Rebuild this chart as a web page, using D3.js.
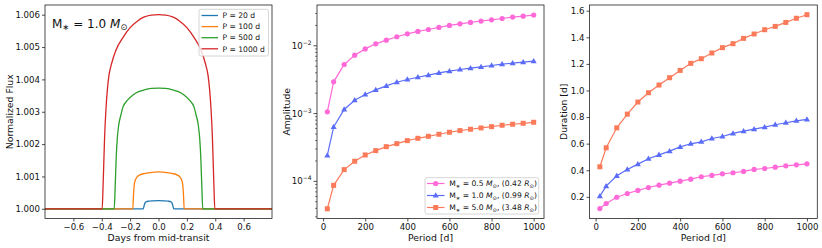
<!DOCTYPE html>
<html>
<head>
<meta charset="utf-8">
<script src="https://cdn.jsdelivr.net/npm/d3@7"></script>
<style>
  body { margin: 0; background: #fff; }
  svg { font-family: "DejaVu Sans", sans-serif; }
</style>
</head>
<body>
<div id="chart"></div>
<script>
// ---- data ----
// left panel: light curves (days from mid-transit, normalized flux)
const lcLabels = ["P = 20 d", "P = 100 d", "P = 500 d", "P = 1000 d"];
const lcColors = ["#1f77b4", "#ff7f0e", "#2ca02c", "#d62728"];

const tP20 = [-0.8, -0.108, -0.103, -0.098, -0.092, -0.085, -0.07, -0.04, 0, 0.04, 0.07, 0.085, 0.092, 0.098, 0.103, 0.108, 0.8];
const fP20 = [1, 1, 1.00006, 1.00015, 1.0002, 1.00022, 1.000235, 1.000245, 1.00025, 1.000245, 1.000235, 1.00022, 1.0002, 1.00015, 1.00006, 1, 1];

const tP100 = [-0.8, -0.181, -0.177, -0.173, -0.168, -0.16, -0.15, -0.13, -0.10, -0.06, 0, 0.06, 0.10, 0.13, 0.15, 0.16, 0.168, 0.173, 0.177, 0.181, 0.8];
const fP100 = [1, 1, 1.00035, 1.00065, 1.00082, 1.00092, 1.00099, 1.00105, 1.00109, 1.00112, 1.00114, 1.00112, 1.00109, 1.00105, 1.00099, 1.00092, 1.00082, 1.00065, 1.00035, 1, 1];

const tP500 = [-0.8, -0.312, -0.306, -0.298, -0.29, -0.28, -0.265, -0.25, -0.22, -0.18, -0.14, -0.10, -0.05, 0, 0.05, 0.10, 0.14, 0.18, 0.22, 0.25, 0.265, 0.28, 0.29, 0.298, 0.306, 0.312, 0.8];
const fP500 = [1, 1, 1.0006, 1.0016, 1.0022, 1.0026, 1.0029, 1.00315, 1.00335, 1.00352, 1.00362, 1.00368, 1.00372, 1.00373, 1.00372, 1.00368, 1.00362, 1.00352, 1.00335, 1.00315, 1.0029, 1.0026, 1.0022, 1.0016, 1.0006, 1, 1];

const tP1000 = [-0.8, -0.397, -0.39, -0.38, -0.37, -0.36, -0.35, -0.33, -0.30, -0.25, -0.20, -0.15, -0.10, -0.05, 0, 0.05, 0.10, 0.15, 0.20, 0.25, 0.30, 0.33, 0.35, 0.36, 0.37, 0.38, 0.39, 0.397, 0.8];
const fP1000 = [1, 1, 1.0008, 1.0022, 1.0031, 1.0037, 1.0041, 1.0045, 1.0049, 1.0053, 1.0056, 1.0058, 1.00593, 1.00599, 1.006, 1.00599, 1.00593, 1.0058, 1.0056, 1.0053, 1.0049, 1.0045, 1.0041, 1.0037, 1.0031, 1.0022, 1.0008, 1, 1];

const lcX = [tP20, tP100, tP500, tP1000];
const lcY = [fP20, fP100, fP500, fP1000];

// middle + right panels: vs orbital period
const periods = [20, 50, 100, 150, 200, 250, 300, 350, 400, 450, 500, 550, 600, 650, 700, 750, 800, 850, 900, 950, 1000];

const ampM05 = [1.06e-3, 2.94e-3, 5.3e-3, 7.28e-3, 9.0e-3, 1.07e-2, 1.21e-2, 1.36e-2, 1.50e-2, 1.63e-2, 1.74e-2, 1.87e-2, 2.0e-2, 2.11e-2, 2.21e-2, 2.32e-2, 2.42e-2, 2.53e-2, 2.65e-2, 2.74e-2, 2.84e-2];
const ampM10 = [2.42e-4, 6.35e-4, 1.15e-3, 1.57e-3, 1.91e-3, 2.24e-3, 2.56e-3, 2.90e-3, 3.18e-3, 3.44e-3, 3.69e-3, 3.99e-3, 4.22e-3, 4.47e-3, 4.68e-3, 4.89e-3, 5.12e-3, 5.36e-3, 5.54e-3, 5.74e-3, 5.93e-3];
const ampM50 = [3.94e-5, 8.73e-5, 1.49e-4, 1.98e-4, 2.45e-4, 2.84e-4, 3.25e-4, 3.60e-4, 3.99e-4, 4.32e-4, 4.62e-4, 4.95e-4, 5.30e-4, 5.61e-4, 5.87e-4, 6.14e-4, 6.42e-4, 6.73e-4, 6.96e-4, 7.19e-4, 7.44e-4];

const durM05 = [0.112, 0.150, 0.197, 0.225, 0.248, 0.270, 0.288, 0.303, 0.318, 0.333, 0.351, 0.361, 0.373, 0.381, 0.391, 0.406, 0.413, 0.423, 0.433, 0.441, 0.448];
const durM10 = [0.205, 0.280, 0.358, 0.406, 0.446, 0.486, 0.516, 0.544, 0.576, 0.599, 0.614, 0.639, 0.654, 0.677, 0.694, 0.709, 0.724, 0.742, 0.757, 0.772, 0.782];
const durM50 = [0.426, 0.569, 0.719, 0.822, 0.913, 0.983, 1.041, 1.096, 1.151, 1.204, 1.239, 1.282, 1.322, 1.352, 1.392, 1.425, 1.457, 1.482, 1.512, 1.543, 1.570];

const starMass = ["0.5", "1.0", "5.0"];
const starRad = ["0.42", "0.99", "3.48"];
const starColors = ["#ff6ad8", "#5a6cf8", "#fb7a5a"];
const starMarkers = ["circle", "triangle", "square"];

const fluxTicks = [1.000, 1.001, 1.002, 1.003, 1.004, 1.005, 1.006];
const dayTicks = [-0.6, -0.4, -0.2, 0.0, 0.2, 0.4, 0.6];
const periodTicks = [0, 200, 400, 600, 800, 1000];
const durTicks = [0.2, 0.4, 0.6, 0.8, 1.0, 1.2, 1.4, 1.6];
const ampTicks = [1e-4, 1e-3, 1e-2];

// ---- layout ----
const W = 822, H = 248;
const plotTop = 5, plotBottom = 218.5;
const tickFont = 8.6, labelFont = 9.3;

const svg = d3.select("#chart").append("svg")
    .attr("width", W)
    .attr("height", H);

const fmtMinus = s => s.replace("-", "\u2212");

// mixed text: parts = [[text, kind]], kind: n (normal), i (italic), s (subscript)
function richText(sel, parts, size) {
    let shift = 0;   // pending baseline return after a subscript
    parts.forEach(p => {
        let t = sel.append("tspan").text(p[0]);
        if (p[1] === "i") t.style("font-style", "italic");
        if (p[1] === "s") {
            t.attr("font-size", size * 0.7).attr("dy", shift + size * 0.22);
            shift = -size * 0.22;
        } else if (shift !== 0) {
            t.attr("dy", shift);
            shift = 0;
        }
    });
}

function drawFrame(g, x0, x1) {
    g.append("rect")
        .attr("x", x0).attr("y", plotTop)
        .attr("width", x1 - x0).attr("height", plotBottom - plotTop)
        .attr("fill", "none")
        .attr("stroke", "#222")
        .attr("stroke-width", 0.8);
}

function xAxisDraw(g, x, ticks, fmt) {
    let ax = g.append("g").attr("transform", "translate(0," + plotBottom + ")")
        .call(d3.axisBottom(x).tickValues(ticks).tickSize(3).tickPadding(2).tickFormat(fmt));
    ax.select(".domain").remove();
    ax.selectAll("line").attr("stroke", "#222").attr("stroke-width", 0.8);
    ax.selectAll("text").attr("font-size", tickFont).attr("font-family", "DejaVu Sans").attr("fill", "#111");
}

function yAxisDraw(g, y, x0, ticks, fmt) {
    let ax = g.append("g").attr("transform", "translate(" + x0 + ",0)")
        .call(d3.axisLeft(y).tickValues(ticks).tickSize(3).tickPadding(2).tickFormat(fmt));
    ax.select(".domain").remove();
    ax.selectAll("line").attr("stroke", "#222").attr("stroke-width", 0.8);
    ax.selectAll("text").attr("font-size", tickFont).attr("font-family", "DejaVu Sans").attr("fill", "#111");
    return ax;
}

function axisLabels(g, x0, x1, xlab, ylabX, ylab) {
    g.append("text")
        .attr("x", (x0 + x1) / 2).attr("y", 240.5)
        .attr("text-anchor", "middle")
        .attr("font-size", labelFont).attr("fill", "#111")
        .text(xlab);
    g.append("text")
        .attr("transform", "translate(" + ylabX + "," + ((plotTop + plotBottom) / 2) + ") rotate(-90)")
        .attr("text-anchor", "middle")
        .attr("font-size", labelFont).attr("fill", "#111")
        .text(ylab);
}

function marker(g, kind, cx, cy, color) {
    if (kind === "circle") {
        g.append("circle").attr("cx", cx).attr("cy", cy).attr("r", 2.6).attr("fill", color);
    } else if (kind === "square") {
        g.append("rect").attr("x", cx - 2.5).attr("y", cy - 2.5).attr("width", 5).attr("height", 5).attr("fill", color);
    } else {
        g.append("path")
            .attr("d", d3.symbol().type(d3.symbolTriangle).size(16)())
            .attr("transform", "translate(" + cx + "," + (cy + 0.3) + ")")
            .attr("fill", color);
    }
}

// ---- panel 1: light curves ----
const p1 = svg.append("g");
const x1L = 45, x1R = 272;
const xDays = d3.scaleLinear().domain([-0.8, 0.8]).range([x1L, x1R]);
const yFlux = d3.scaleLinear().domain([0.9997, 1.0063]).range([plotBottom, plotTop]);

const lcLine = d3.line().curve(d3.curveMonotoneX);
lcX.forEach((xs, k) => {
    let pts = xs.map((t, i) => [xDays(t), yFlux(lcY[k][i])]);
    p1.append("path")
        .attr("d", lcLine(pts))
        .attr("fill", "none")
        .attr("stroke", lcColors[k])
        .attr("stroke-width", 1.3);
});

drawFrame(p1, x1L, x1R);
xAxisDraw(p1, xDays, dayTicks, d => fmtMinus(d3.format(".1f")(d)));
yAxisDraw(p1, yFlux, x1L, fluxTicks, d3.format(".3f"));
axisLabels(p1, x1L, x1R, "Days from mid-transit", 12.5, "Normalized Flux");

let ann = p1.append("text").attr("x", 52).attr("y", 27.5).attr("font-size", 12).attr("fill", "#111");
richText(ann, [["M", "n"], ["\u2217", "s"], [" = 1.0 ", "n"], ["M", "i"], ["\u2299", "s"]], 12);

// legend 1
const lg1 = p1.append("g");
lg1.append("rect")
    .attr("x", 199).attr("y", 9.3).attr("width", 69.5).attr("height", 46.7)
    .attr("rx", 2).attr("fill", "#fff").attr("fill-opacity", 0.8)
    .attr("stroke", "#ccc").attr("stroke-width", 0.8);
lcLabels.forEach((lab, i) => {
    let yy = 15.5 + i * 11.1;
    lg1.append("line").attr("x1", 201.5).attr("x2", 218).attr("y1", yy).attr("y2", yy)
        .attr("stroke", lcColors[i]).attr("stroke-width", 1.3);
    lg1.append("text").attr("x", 222.5).attr("y", yy + 2.7)
        .attr("font-size", 7.6).attr("fill", "#111").text(lab);
});

// ---- panel 2: amplitude vs period ----
const p2 = svg.append("g");
const x2L = 317, x2R = 544;
const xPer2 = d3.scaleLinear().domain([-29, 1049]).range([x2L, x2R]);
const yAmp = d3.scaleLog().domain([Math.pow(10, -4.548), Math.pow(10, -1.398)]).range([plotBottom, plotTop]);

const ampSeries = [ampM05, ampM10, ampM50];
const durSeries = [durM05, durM10, durM50];

function drawSeries(g, xs, ys, k, xsc, ysc) {
    let pts = xs.map((p, i) => [xsc(p), ysc(ys[i])]);
    g.append("path")
        .attr("d", d3.line()(pts))
        .attr("fill", "none")
        .attr("stroke", starColors[k])
        .attr("stroke-width", 1.2);
    pts.forEach(pt => marker(g, starMarkers[k], pt[0], pt[1], starColors[k]));
}

ampSeries.forEach((s, k) => drawSeries(p2, periods, s, k, xPer2, yAmp));
drawFrame(p2, x2L, x2R);
xAxisDraw(p2, xPer2, periodTicks, d3.format("d"));

// log y axis: major ticks with 10^n labels + minor ticks
let yax2 = p2.append("g");
ampTicks.forEach(v => {
    let yy = yAmp(v);
    yax2.append("line").attr("x1", x2L - 3.5).attr("x2", x2L).attr("y1", yy).attr("y2", yy)
        .attr("stroke", "#222").attr("stroke-width", 0.8);
    let t = yax2.append("text").attr("x", x2L - 5.5).attr("y", yy + 3)
        .attr("text-anchor", "end").attr("font-size", tickFont).attr("fill", "#111");
    t.append("tspan").text("10");
    t.append("tspan").attr("dy", -4).attr("font-size", tickFont * 0.7)
        .text("\u2212" + Math.round(-Math.log10(v)));
});
const [aMin, aMax] = yAmp.domain();
for (let e = -5; e <= -1; e++) {
    for (let m = 2; m <= 9; m++) {
        let v = m * Math.pow(10, e);
        if (v < aMin || v > aMax) continue;
        let yy = yAmp(v);
        yax2.append("line").attr("x1", x2L - 2).attr("x2", x2L).attr("y1", yy).attr("y2", yy)
            .attr("stroke", "#222").attr("stroke-width", 0.6);
    }
}
axisLabels(p2, x2L, x2R, "Period [d]", 290, "Amplitude");

// legend 2
const lg2 = p2.append("g");
lg2.append("rect")
    .attr("x", 425).attr("y", 177.7).attr("width", 113.7).attr("height", 36.3)
    .attr("rx", 2).attr("fill", "#fff").attr("fill-opacity", 0.8)
    .attr("stroke", "#ccc").attr("stroke-width", 0.8);
starMass.forEach((m, i) => {
    let yy = 183.5 + i * 12;
    lg2.append("line").attr("x1", 427).attr("x2", 444.5).attr("y1", yy).attr("y2", yy)
        .attr("stroke", starColors[i]).attr("stroke-width", 1.2);
    marker(lg2, starMarkers[i], 435.7, yy, starColors[i]);
    let t = lg2.append("text").attr("x", 449.3).attr("y", yy + 2.7)
        .attr("font-size", 7.6).attr("fill", "#111");
    richText(t, [["M", "n"], ["\u2217", "s"], [" = " + m + " ", "n"], ["M", "i"], ["\u2299", "s"],
        [", (" + starRad[i] + " ", "n"], ["R", "i"], ["\u2299", "s"], [")", "n"]], 7.6);
});

// ---- panel 3: duration vs period ----
const p3 = svg.append("g");
const x3L = 589.5, x3R = 817.3;
const xPer3 = d3.scaleLinear().domain([-29, 1049]).range([x3L, x3R]);
const yDur = d3.scaleLinear().domain([0.037, 1.643]).range([plotBottom, plotTop]);

durSeries.forEach((s, k) => drawSeries(p3, periods, s, k, xPer3, yDur));
drawFrame(p3, x3L, x3R);
xAxisDraw(p3, xPer3, periodTicks, d3.format("d"));
yAxisDraw(p3, yDur, x3L, durTicks, d3.format(".1f"));
axisLabels(p3, x3L, x3R, "Period [d]", 567, "Duration [d]");
</script>
</body>
</html>
